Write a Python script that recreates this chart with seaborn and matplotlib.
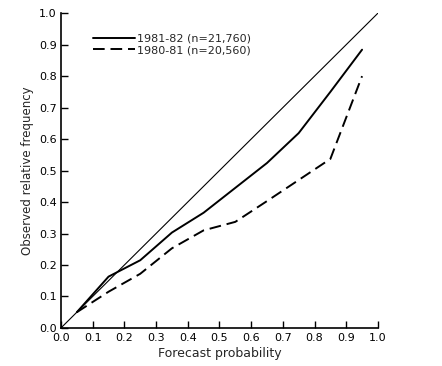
import numpy as np
import pandas as pd
import matplotlib
matplotlib.use('Agg')
import matplotlib.pyplot as plt
import seaborn as sns

# forecast probability bins and observed relative frequency
prob = [0.05, 0.15, 0.25, 0.35, 0.45, 0.55, 0.65, 0.75, 0.85, 0.95]
freq_8182 = [0.05, 0.163, 0.215, 0.303, 0.366, 0.445, 0.524, 0.619, 0.75, 0.884]
freq_8081 = [0.05, 0.115, 0.172, 0.253, 0.31, 0.337, 0.403, 0.47, 0.537, 0.80]
ticks = [0.0, 0.1, 0.2, 0.3, 0.4, 0.5, 0.6, 0.7, 0.8, 0.9, 1.0]
tick_labels = ['0.0', '0.1', '0.2', '0.3', '0.4', '0.5', '0.6', '0.7', '0.8', '0.9', '1.0']

sns.set_theme(style="ticks")
plt.rcParams['font.family'] = ['DejaVu Sans']

fig = plt.figure(figsize=(4.42, 3.66), dpi=100)
ax = fig.add_axes([0.138, 0.104, 0.717, 0.860])

ax.plot([0, 1], [0, 1], color='black', lw=0.8)

df = pd.DataFrame({'prob': prob + prob,
                   'freq': freq_8182 + freq_8081,
                   'season': ['1981-82 (n=21,760)'] * len(prob) + ['1980-81 (n=20,560)'] * len(prob)})
sns.lineplot(data=df, x='prob', y='freq', style='season', color='black', lw=1.4,
             dashes={'1981-82 (n=21,760)': '', '1980-81 (n=20,560)': (6, 3)}, ax=ax)

ax.set_xlim(0, 1)
ax.set_ylim(0, 1)
ax.set_xticks(ticks)
ax.set_xticklabels(tick_labels, fontsize=8)
ax.set_yticks(ticks)
ax.set_yticklabels(tick_labels, fontsize=8)
ax.tick_params(direction='in', length=5, width=1, colors='black')
ax.tick_params(axis='x', pad=3.5)
ax.tick_params(axis='y', pad=3)
ax.set_xlabel('Forecast probability', fontsize=9, labelpad=3)
ax.set_ylabel('Observed relative frequency', fontsize=8.5, labelpad=4)
for s in ['top', 'right']:
    ax.spines[s].set_visible(False)
for s in ['left', 'bottom']:
    ax.spines[s].set_color('black')
    ax.spines[s].set_linewidth(1.2)

ax.legend(title=None, loc='upper left', bbox_to_anchor=(0.07, 0.967), frameon=False,
          fontsize=8, handlelength=3.8, handletextpad=0.1, labelspacing=0.15)

fig.savefig('out.png', dpi=100, facecolor='white')
